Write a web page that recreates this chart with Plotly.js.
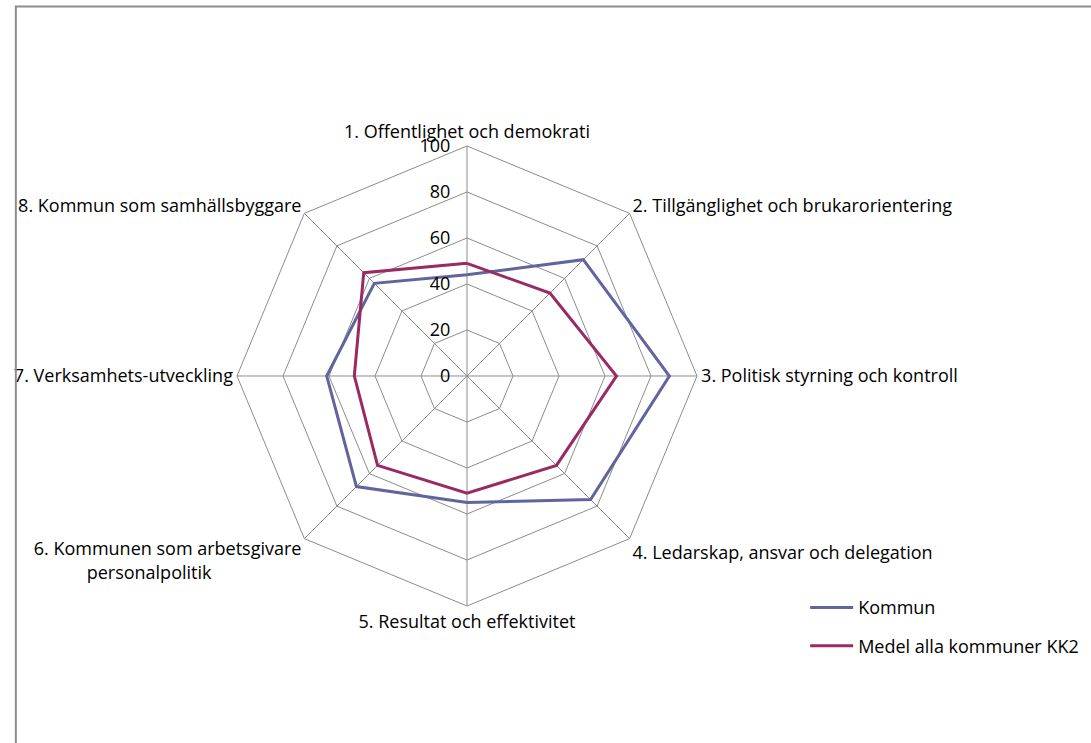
<!DOCTYPE html>
<html>
<head>
<meta charset="utf-8">
<script src="https://cdn.plot.ly/plotly-3.0.1.min.js"></script>
<style>html,body{margin:0;padding:0;background:#fff;}#chart{width:1091px;height:743px;}</style>
</head>
<body>
<div id="chart"></div>
<script>
const categories = [
  "1. Offentlighet och demokrati",
  "2. Tillgänglighet och brukarorientering",
  "3. Politisk styrning och kontroll",
  "4. Ledarskap, ansvar och delegation",
  "5. Resultat och effektivitet",
  "6. Kommunen som arbetsgivare<br>personalpolitik\u2002\u2002\u2002\u2002\u2002\u2002\u2002\u2002\u2002\u2002",
  "7. Verksamhets-utveckling",
  "8. Kommun som samhällsbyggare"
];
const kommun = [44, 71.5, 88, 76, 55, 68, 61, 57];
const medel = [49, 51, 65, 55, 51, 55, 49, 63.5];
const seriesNames = ["Kommun", "Medel alla kommuner KK2"];
const radialTicks = [0, 20, 40, 60, 80, 100];

const close = a => a.concat([a[0]]);
const theta = close(categories);

const font = "'Open Sans', Lato, 'DejaVu Sans', sans-serif";

const traces = [
  {type: "scatterpolar", r: close(kommun), theta: theta, mode: "lines", name: seriesNames[0],
   legendgroup: "a", line: {color: "#62649E", width: 3}},
  {type: "scatterpolar", r: close(medel), theta: theta, mode: "lines", name: seriesNames[1],
   legendgroup: "b", line: {color: "#9A2B62", width: 3}}
];

const layout = {
  width: 1091, height: 743,
  margin: {l: 0, r: 0, t: 0, b: 0},
  paper_bgcolor: "#fff",
  font: {family: font, size: 16, color: "#000"},
  showlegend: true,
  legend: {x: 0.738, y: 0.207, xanchor: "left", yanchor: "top", tracegroupgap: 12, itemwidth: 43,
           font: {family: font, size: 18, color: "#000"}, bgcolor: "rgba(0,0,0,0)"},
  polar: {
    domain: {x: [0.2172, 0.6389], y: [0.1844, 0.8035]},
    gridshape: "linear",
    bgcolor: "#fff",
    radialaxis: {range: [0, 100], tickvals: radialTicks,
      ticktext: radialTicks.map(v => String(v) + "\u2002\u2005"),
      angle: 90, tickangle: 90, side: "counterclockwise", showline: false, ticks: "",
      gridcolor: "#8c8c8c", gridwidth: 1, tickfont: {family: font, size: 18, color: "#000"}},
    angularaxis: {direction: "clockwise", rotation: 90, type: "category",
      categoryarray: categories, showline: true, linecolor: "#8c8c8c", linewidth: 1,
      gridcolor: "#8c8c8c", gridwidth: 1, ticks: "",
      tickfont: {family: font, size: 18, color: "#000"}}
  },
  shapes: [
    {type: "rect", xref: "paper", yref: "paper", x0: 0.0145, x1: 1.2, y0: -0.2, y1: 0.9913,
     line: {color: "#8c8c8c", width: 2}, fillcolor: "rgba(0,0,0,0)"}
  ]
};

Plotly.newPlot("chart", traces, layout, {displayModeBar: false, staticPlot: true});
</script>
</body>
</html>
